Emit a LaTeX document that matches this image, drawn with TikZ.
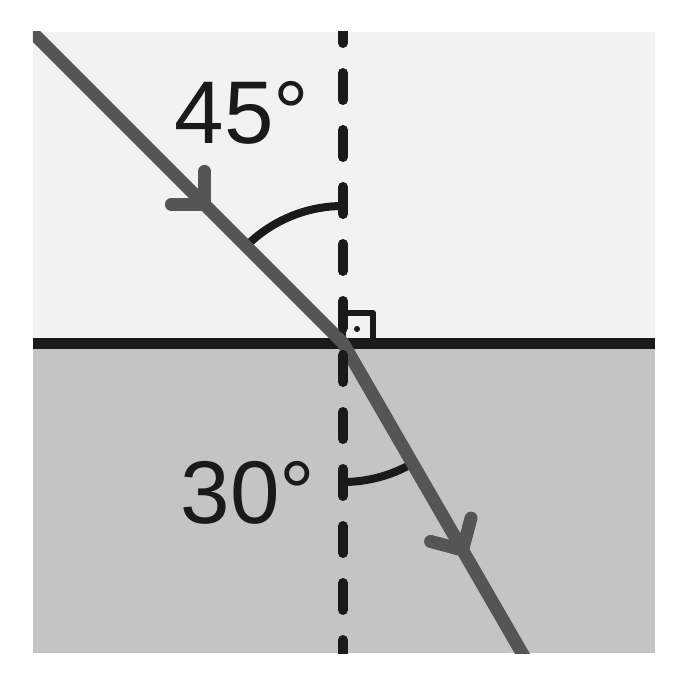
\documentclass[tikz,border=0pt]{standalone}
\usepackage{fontspec}
\setmainfont{Liberation Sans}
\definecolor{upperfill}{HTML}{F2F2F2}
\definecolor{lowerfill}{HTML}{C4C4C4}
\definecolor{ink}{HTML}{1A1A1A}
\definecolor{raygray}{HTML}{555555}

\begin{document}
\begin{tikzpicture}[x=1pt, y=1pt,
        ray/.style={raygray, line width=13pt, line cap=round, line join=round},
        normalline/.style={ink, line width=10pt, line cap=round, dash pattern=on 27pt off 30pt},
        anglearc/.style={ink, line width=8pt},
        anglelabel/.style={font=\fontsize{89}{89}\selectfont, text=ink, inner sep=0pt, anchor=base}]
        \useasboundingbox (-343, -337) rectangle (345, 343);

        \fill[upperfill] (-310, 0) rectangle (312, 311);
        \fill[lowerfill] (-310, -310) rectangle (312, 0);

        \coordinate (O) at (0, 0);
        \coordinate (inTip) at (135:196);
        \coordinate (outTip) at (300:239);

        \draw[ink, line width=11pt] (-310, 0) -- (312, 0);
        \draw[ink, line width=6pt, line join=round] (O) rectangle (30, 30);
        \fill[ink] (14, 14) circle (3);

        \draw[anglearc] (90:137) arc[start angle=90, end angle=135, radius=137];
        \draw[anglearc] (270:139) arc[start angle=270, end angle=300, radius=139];

        \begin{scope}
            \clip (-310, -310) rectangle (312, 311);
            \draw[ray] (135:470) -- (O) -- (300:400);
            \draw[normalline, dash phase=42pt] (O) -- (0, 330);
            \draw[normalline, dash phase=45pt] (O) -- (0, -330);
        \end{scope}

        \draw[ray] (inTip) +(90:33) -- (inTip) -- +(180:33);
        \draw[ray] (outTip) +(75:33) -- (outTip) -- +(165:33);

        \node[anglelabel] (alpha) at (-101, 199) {45°};
        \node[anglelabel] (beta) at (-95, -180) {30°};
    \end{tikzpicture}
\end{document}
